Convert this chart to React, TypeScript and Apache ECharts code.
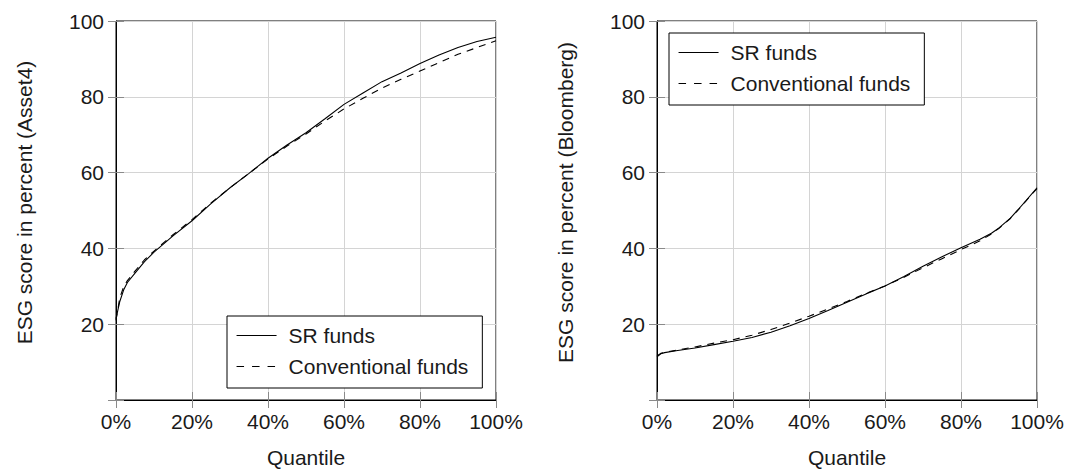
import React, { useEffect, useRef } from "react";
import * as echarts from "echarts";

// Quantile positions (in percent) and ESG scores
const quantilesLeft = [0, 1, 2, 3, 5, 7.5, 10, 15, 20, 25, 30, 35, 40, 45, 50, 55, 60, 65, 70, 75, 80, 85, 90, 95, 100];
const asset4SR = [21.5, 26, 29, 31, 33.5, 36.5, 39, 43.3, 47.3, 51.8, 56, 59.8, 63.8, 67.3, 70.5, 74.2, 78, 81, 84, 86.3, 88.8, 91, 93, 94.6, 95.7];
const asset4Conv = [21, 27, 29.8, 31.5, 34, 37, 39.3, 43.6, 47.6, 52, 56, 59.8, 63.6, 67, 70.2, 73.6, 76.8, 79.6, 82.3, 84.6, 86.8, 89, 91.2, 93, 94.8];

const quantilesRight = [0, 1, 2, 5, 10, 15, 20, 25, 30, 35, 40, 45, 50, 55, 60, 65, 70, 75, 80, 85, 88, 90, 93, 95, 97, 100];
const bloombergSR = [11.4, 12.2, 12.5, 13, 13.7, 14.6, 15.5, 16.5, 17.9, 19.6, 21.5, 23.6, 25.8, 28, 30.1, 32.6, 35.3, 37.8, 40.2, 42.4, 44, 45.4, 48, 50.2, 52.5, 56];
const bloombergConv = [11.6, 12.3, 12.6, 13.1, 14, 15, 15.9, 17.1, 18.6, 20.3, 22.1, 24, 26, 28.1, 30.1, 32.4, 34.9, 37.3, 39.7, 42, 43.8, 45.3, 47.9, 50.1, 52.4, 55.8];

const seriesNames = ["SR funds", "Conventional funds"];
const yAxisNames = ["ESG score in percent (Asset4)", "ESG score in percent (Bloomberg)"];
const xAxisName = "Quantile";

const FONT = "Liberation Sans, Arial, Helvetica, sans-serif";
const TEXT = "#1a1a1a";
const FS = 21;

const pairs = (xs: number[], ys: number[]) => xs.map((x, i) => [x, ys[i]]);

export default function App() {
  const ref = useRef<HTMLDivElement>(null);

  useEffect(() => {
    if (!ref.current) return;
    const chart = echarts.init(ref.current, null, { renderer: "svg" });

    const grids = [
      { left: 116, top: 21, width: 380, height: 379 },
      { left: 657, top: 21, width: 380, height: 379 },
    ];

    const tick = { show: true, inside: true, length: 8, lineStyle: { color: "#8a8a8a", width: 1 } };

    const xAxes: any[] = [];
    const yAxes: any[] = [];
    grids.forEach((_, g) => {
      xAxes.push({
        type: "value",
        gridIndex: g,
        min: 0,
        max: 100,
        interval: 20,
        name: xAxisName,
        nameLocation: "middle",
        nameGap: 47,
        nameTextStyle: { fontFamily: FONT, fontSize: FS, color: TEXT },
        axisLine: { show: true, lineStyle: { color: "#000", width: 1 } },
        axisTick: tick,
        axisLabel: { formatter: "{value}%", fontFamily: FONT, fontSize: FS, color: TEXT, margin: 11 },
        splitLine: { show: true, lineStyle: { color: "#d4d4d4", width: 1 } },
      });
      xAxes.push({
        type: "value",
        gridIndex: g,
        position: "top",
        min: 0,
        max: 100,
        interval: 20,
        axisLine: { show: false },
        axisTick: tick,
        axisLabel: { show: false },
        splitLine: { show: false },
      });
      yAxes.push({
        type: "value",
        gridIndex: g,
        min: 0,
        max: 100,
        interval: 20,
        name: yAxisNames[g],
        nameLocation: "middle",
        nameGap: 81,
        nameTextStyle: { fontFamily: FONT, fontSize: FS, color: TEXT, padding: [0, 0, 0, 16] },
        axisLine: { show: true, lineStyle: { color: "#000", width: 1 } },
        axisTick: tick,
        axisLabel: {
          formatter: (v: number) => (v === 0 ? "" : String(v)),
          fontFamily: FONT,
          fontSize: FS,
          color: TEXT,
          margin: 12,
        },
        splitLine: { show: true, lineStyle: { color: "#d4d4d4", width: 1 } },
      });
      yAxes.push({
        type: "value",
        gridIndex: g,
        position: "right",
        min: 0,
        max: 100,
        interval: 20,
        axisLine: { show: false },
        axisTick: tick,
        axisLabel: { show: false },
        splitLine: { show: false },
      });
    });

    const mkSeries = (name: string, data: number[][], g: number, dashed: boolean) => ({
      type: "line",
      name,
      xAxisIndex: g * 2,
      yAxisIndex: g * 2,
      data,
      symbol: "none",
      smooth: false,
      itemStyle: { color: "#000" },
      lineStyle: { color: "#000", width: 1.1, type: dashed ? [7, 6] : "solid" },
      emphasis: { disabled: true },
    });

    const legendBase = {
      orient: "vertical",
      data: [
        { name: seriesNames[0], lineStyle: { type: "solid" } },
        { name: seriesNames[1], lineStyle: { type: [7.5, 8] } },
      ],
      itemWidth: 40,
      itemHeight: 14,
      itemGap: 10,
      backgroundColor: "#fff",
      borderColor: "#000",
      borderWidth: 1,
      borderRadius: 0,
      selectedMode: false,
      textStyle: { fontFamily: FONT, fontSize: FS, color: TEXT, padding: [0, 0, 0, 7] },
      itemStyle: { color: "rgba(0,0,0,0)", borderWidth: 0, opacity: 0 },
      lineStyle: { width: 1.1, color: "#000" },
    };

    chart.setOption({
      animation: false,
      backgroundColor: "#fff",
      grid: grids.map((g) => ({ ...g, show: true, borderColor: "#000", borderWidth: 1, backgroundColor: "transparent" })),
      xAxis: xAxes,
      yAxis: yAxes,
      legend: [
        { ...legendBase, left: 227, top: 316, padding: [9, 14, 11, 9] },
        { ...legendBase, left: 669, top: 33, padding: [9, 14, 11, 9] },
      ],
      series: [
        mkSeries(seriesNames[0], pairs(quantilesLeft, asset4SR), 0, false),
        mkSeries(seriesNames[1], pairs(quantilesLeft, asset4Conv), 0, true),
        mkSeries(seriesNames[0], pairs(quantilesRight, bloombergSR), 1, false),
        mkSeries(seriesNames[1], pairs(quantilesRight, bloombergConv), 1, true),
      ],
    });

    return () => chart.dispose();
  }, []);

  return (
    <div
      ref={ref}
      style={{ position: "fixed", left: 0, top: 0, width: 1069, height: 473, background: "#fff" }}
    />
  );
}
